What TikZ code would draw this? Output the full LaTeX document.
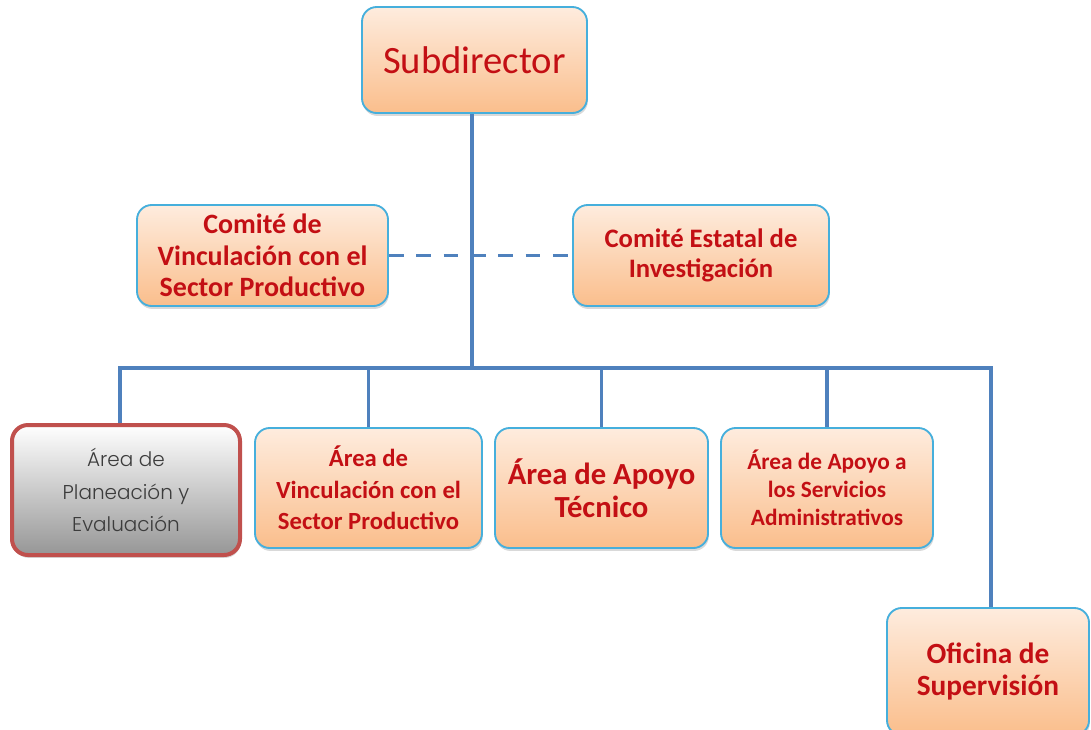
\documentclass[tikz,border=0pt]{standalone}
\usepackage{fontspec}
\setmainfont{Carlito}
\newfontfamily\thinfont{Poppins}[UprightFont={* Light}]
\usetikzlibrary{shadows,calc}
\definecolor{linecol}{RGB}{79,129,189}
\definecolor{boxborder}{RGB}{70,175,220}
\definecolor{peachtop}{RGB}{254,236,222}
\definecolor{peachbot}{RGB}{250,190,140}
\definecolor{redtext}{RGB}{195,15,20}
\definecolor{grayborder}{RGB}{192,80,77}
\definecolor{graybot}{RGB}{150,150,150}
\definecolor{graytext}{RGB}{60,60,60}
\tikzset{
  orgbox/.style={rounded corners=11pt, draw=boxborder, line width=1.4pt,
    top color=peachtop, bottom color=peachbot,
    drop shadow={opacity=0.3, shadow xshift=0.6pt, shadow yshift=-2.2pt},
    text=redtext, align=center, inner sep=0pt, font=\bfseries},
  graybox/.style={rounded corners=12pt, draw=grayborder, line width=3pt,
    top color=white, bottom color=graybot,
    drop shadow={opacity=0.3, shadow xshift=0.6pt, shadow yshift=-2.2pt},
    text=graytext, align=center, inner sep=0pt},
  conn/.style={draw=linecol, line width=2.3pt},
  dashconn/.style={draw=linecol, line width=2.3pt, dash pattern=on 11pt off 9.5pt}
}
\begin{document}
\begin{tikzpicture}[x=0.75pt,y=-0.75pt]
\useasboundingbox (0,0) rectangle (1091,729);
\clip (0,0) rectangle (1091,729);
% connectors first
\coordinate (hub) at (472,368);
\coordinate (hl) at (120,368);
\coordinate (hr) at (991,368);
\coordinate (dl) at (390,255);
\coordinate (dr) at (572,255);

\node[orgbox, minimum width=168.75pt, minimum height=79.5pt,
  font=\fontsize{29}{32}\selectfont] (sub) at (474.5,60) {\raisebox{-3pt}{Subdirector}};
\node[orgbox, minimum width=188.25pt, minimum height=75.75pt,
  font=\bfseries\fontsize{21}{23.6}\selectfont] (cv) at (262.5,255.5) {Comité de\\Vinculación con el\\Sector Productivo};
\node[orgbox, minimum width=192pt, minimum height=75.75pt,
  font=\bfseries\fontsize{20}{22.5}\selectfont] (ce) at (701,255.5) {Comité Estatal de\\Investigación};
\node[graybox, minimum width=171pt, minimum height=97.5pt,
  font=\thinfont\fontsize{15}{24.4}\selectfont] (pe) at (126,490) {Área de\\Planeación y\\Evaluación};
\node[orgbox, minimum width=170.25pt, minimum height=90pt,
  font=\bfseries\fontsize{18.5}{23.75}\selectfont] (av) at (368.5,488) {Área de\\Vinculación con el\\Sector Productivo};
\node[orgbox, minimum width=159.75pt, minimum height=90pt,
  font=\bfseries\fontsize{23}{25}\selectfont] (at) at (601.5,488) {Área de Apoyo\\Técnico};
\node[orgbox, minimum width=159pt, minimum height=90pt,
  font=\bfseries\fontsize{17.5}{21}\selectfont] (as) at (827,488) {Área de Apoyo a\\los Servicios\\Administrativos};
\node[orgbox, minimum width=151.5pt, minimum height=95.25pt,
  font=\bfseries\fontsize{22}{24}\selectfont] (of) at (988,671.5) {Oficina de\\Supervisión};

\begin{scope}[on background layer/.try]
\end{scope}
\draw[conn] (sub.south -| hub) -- (hub);
\draw[conn] (hl |- pe.north) -- (hl) -- (hr) -- (hr |- of.north);
\draw[conn] (hub -| av.north) -- (av.north);
\draw[conn] (hub -| at.north) -- (at.north);
\draw[conn] (hub -| as.north) -- (as.north);
\draw[dashconn] (cv.east) -- (ce.west);
\end{tikzpicture}
\end{document}
